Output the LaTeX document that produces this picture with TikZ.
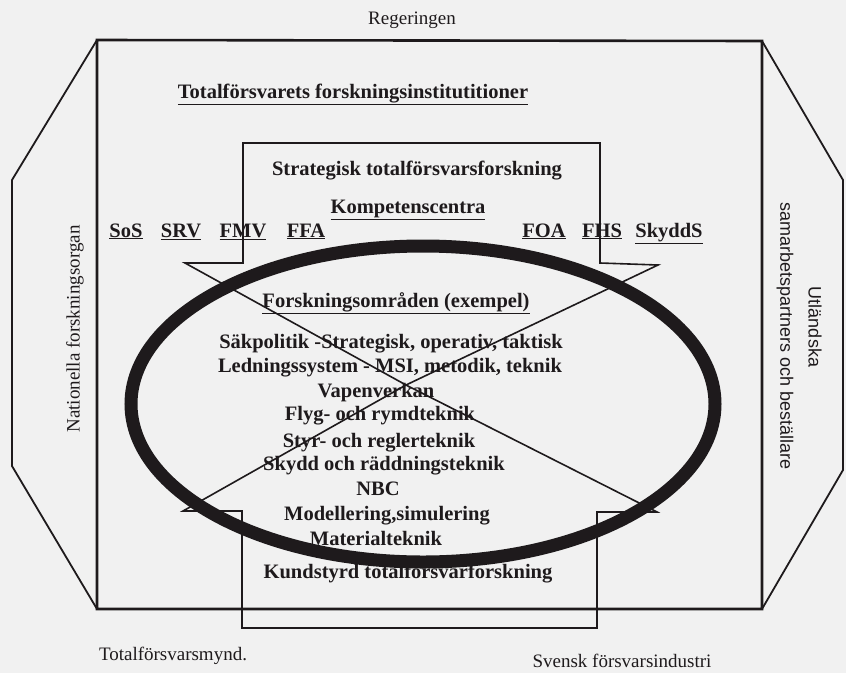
\documentclass[tikz,border=0pt]{standalone}
\usepackage{fontspec}
\setmainfont{Liberation Serif}
\newfontfamily\sansf{Liberation Sans}
\definecolor{bgc}{RGB}{241,241,241}
\definecolor{ink}{RGB}{30,26,28}
\begin{document}
\begin{tikzpicture}[x=1pt,y=-1pt,
  bt/.style={font=\fontsize{20.5}{22}\selectfont\bfseries, inner sep=0pt, text=ink, anchor=base},
  rt/.style={font=\fontsize{19}{22}\selectfont, inner sep=0pt, text=ink, anchor=base},
  vt/.style={font=\fontsize{19}{22}\selectfont, inner sep=0pt, text=ink},
  st/.style={font=\sansf\fontsize{18}{20}\selectfont, inner sep=0pt, text=ink},
  frame/.style={draw=ink, line width=2.6pt, line join=miter},
  side/.style={draw=ink, line width=1.8pt, line join=miter},
  arr/.style={draw=ink, line width=1.6pt, line join=miter},
  ring/.style={draw=ink, line width=13pt}]
\useasboundingbox (0,0) rectangle (846,673);
\fill[bgc] (0,0) rectangle (846,673);

% outer frame and side panels
\coordinate (tl) at (97,40);
\coordinate (tr) at (762,41);
\coordinate (br) at (762,609);
\coordinate (bl) at (97,609);
\coordinate (ol1) at (12,180);
\coordinate (ol2) at (12,466);
\coordinate (or1) at (843,180);
\coordinate (or2) at (843,470);
\draw[side] (tl) -- (ol1) -- (ol2) -- (bl);
\draw[side] (tr) -- (or1) -- (or2) -- (br);
\draw[frame] (tl) -- (tr) -- (br) -- (bl) -- cycle;

% block arrows
\coordinate (tip) at (406,385);
\draw[arr] (185,263) -- (243,263) -- (243,143) -- (600,143) -- (600,263) -- (658,265) -- (tip) -- cycle;
\draw[arr] (183,511) -- (242,511) -- (242,628) -- (597,628) -- (597,512) -- (657,512) -- (tip) -- cycle;

% ring
\draw[ring] (423,404) ellipse [x radius=292pt, y radius=158pt];

% texts
\node[rt] (reg) at (412,24) {Regeringen};
\node[bt] (tfi) at (353,98) {\underline{Totalförsvarets forskningsinstitutitioner}};
\node[bt] (stf) at (417,175) {Strategisk totalförsvarsforskning};
\node[bt] (kc) at (408,213) {\underline{Kompetenscentra}};
\node[bt] (sos) at (126,237) {\underline{SoS}};
\node[bt] (srv) at (181,237) {\underline{SRV}};
\node[bt] (fmv) at (243,237) {\underline{FMV}};
\node[bt] (ffa) at (306,237) {\underline{FFA}};
\node[bt] (foa) at (544,237) {\underline{FOA}};
\node[bt] (fhs) at (602,237) {\underline{FHS}};
\node[bt] (skydds) at (669,237) {\underline{SkyddS}};
\node[bt] (fo) at (396,307) {\underline{Forskningsområden (exempel)}};
\node[bt] (l1) at (391,348) {Säkpolitik -Strategisk, operativ, taktisk};
\node[bt] (l2) at (390,372) {Ledningssystem - MSI, metodik, teknik};
\node[bt] (l3) at (376,397) {Vapenverkan};
\node[bt] (l4) at (380,420) {Flyg- och rymdteknik};
\node[bt] (l5) at (379,447) {Styr- och reglerteknik};
\node[bt] (l6) at (384,470) {Skydd och räddningsteknik};
\node[bt] (l7) at (378,495) {NBC};
\node[bt] (l8) at (387,520) {Modellering,simulering};
\node[bt] (l9) at (376,545) {Materialteknik};
\node[bt] (kund) at (408,578) {Kundstyrd totalförsvarforskning};
\node[rt] (tfm) at (173,660) {Totalförsvarsmynd.};
\node[rt] (sfi) at (622,667) {Svensk försvarsindustri};
\node[vt, rotate=90] (nat) at (75,329) {Nationella forskningsorgan};
\node[st, rotate=-90] (sam) at (785,336) {samarbetspartners och beställare};
\node[st, rotate=-90] (utl) at (815,327) {Utländska};
\end{tikzpicture}
\end{document}
